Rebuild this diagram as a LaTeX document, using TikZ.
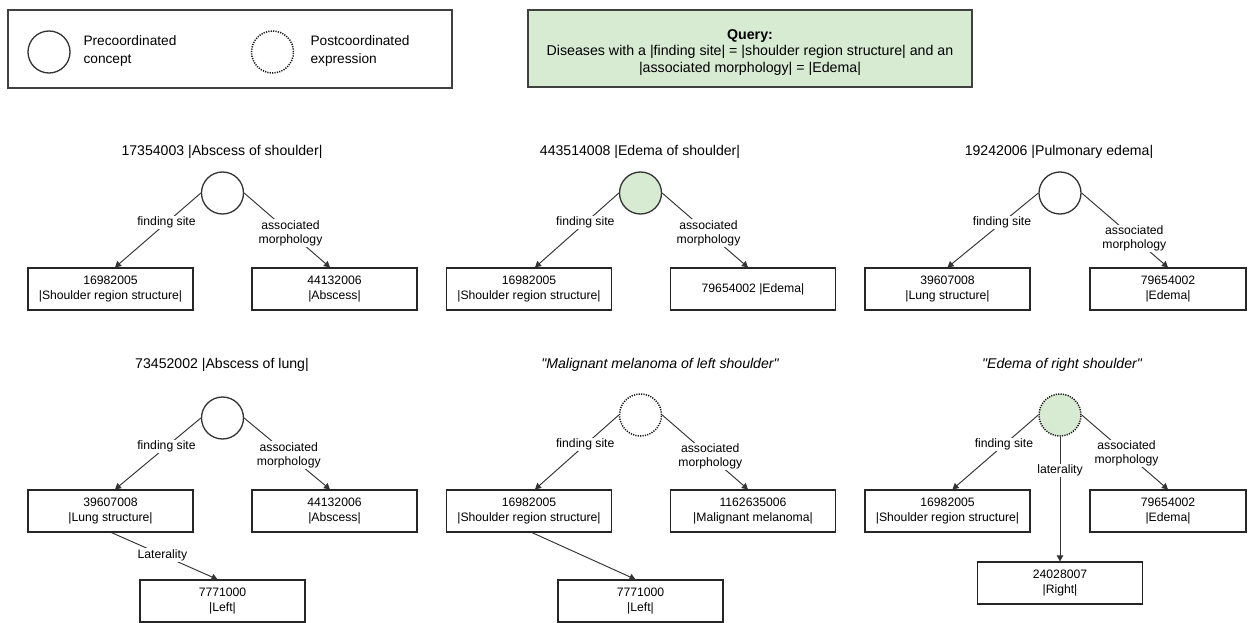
\documentclass[tikz,border=0pt]{standalone}
\usepackage{fontspec}
\setmainfont{Liberation Sans}[Ligatures=TeXOff]
\usetikzlibrary{arrows.meta}
\definecolor{qgreen}{RGB}{215,234,210}
\definecolor{edgec}{RGB}{51,51,51}
\begin{document}
\begin{tikzpicture}[x=1pt,y=-1pt,
 concept/.style={circle,draw=edgec,line width=1.3pt,minimum size=42pt,inner sep=0pt},
 post/.style={concept,draw=black!90,line width=1.5pt,dash pattern=on 1.2pt off 1.2pt},
 box/.style={draw=black!85,line width=1.2pt,minimum height=42pt,minimum width=165pt,align=center,inner sep=1pt,font=\fontsize{12.2}{14.5}\selectfont},
 ttl/.style={font=\fontsize{14.1}{16}\selectfont},
 rel/.style={draw=edgec,line width=0.95pt,-{Triangle[length=6pt,width=6.5pt]}},
 lbl/.style={fill=white,inner sep=1pt,align=center,font=\fontsize{12.2}{14}\selectfont},
]
\useasboundingbox (0,0) rectangle (1248,623);

% legend
\node[draw=black!75,line width=1.3pt,minimum width=444pt,minimum height=78pt,inner sep=0pt] (legend) at (230,49) {};
\node[concept] (lc1) at (49,52) {};
\node[anchor=west,align=left,font=\fontsize{13.7}{18}\selectfont] (lt1) at (80,51) {Precoordinated\\concept};
\node[post] (lc2) at (272.5,52) {};
\node[anchor=west,align=left,font=\fontsize{13.7}{18}\selectfont] (lt2) at (307,51) {Postcoordinated\\expression};

% query
\node[draw=black!75,line width=1.3pt,fill=qgreen,minimum width=444pt,minimum height=77pt,align=center,font=\fontsize{14.2}{16.2}\selectfont] (query) at (750,48.5)
 {\rule{0pt}{18pt}\textbf{Query:}\\Diseases with a |finding site| = |shoulder region structure| and an\\|associated morphology| = |Edema|};

% ---------- row 1 ----------
\node[ttl] (t1) at (222,152) {17354003 |Abscess of shoulder|};
\node[concept] (c1) at (222.5,193) {};
\node[box] (b1a) at (110.5,289) {16982005\\|Shoulder region structure|};
\node[box] (b1b) at (334.5,289) {44132006\\|Abscess|};
\draw[rel] (c1.west) -- node[lbl,pos=0.4]{finding site} ([xshift=4.5pt]b1a.north);
\draw[rel] (c1.east) -- node[lbl,pos=0.54]{associated\\morphology} ([xshift=-4.5pt]b1b.north);

\node[ttl] (t2) at (640,152) {443514008 |Edema of shoulder|};
\node[concept,fill=qgreen] (c2) at (640.5,193) {};
\node[box] (b2a) at (529,289) {16982005\\|Shoulder region structure|};
\node[box] (b2b) at (753,289) {79654002 |Edema|};
\draw[rel] (c2.west) -- node[lbl,pos=0.4]{finding site} ([xshift=6pt]b2a.north);
\draw[rel] (c2.east) -- node[lbl,pos=0.54]{associated\\morphology} ([xshift=-5pt]b2b.north);

\node[ttl] (t3) at (1059,152) {19242006 |Pulmonary edema|};
\node[concept] (c3) at (1060,193) {};
\node[box] (b3a) at (947.5,289) {39607008\\|Lung structure|};
\node[box,minimum width=156pt] (b3b) at (1168,289) {79654002\\|Edema|};
\draw[rel] (c3.west) -- node[lbl,pos=0.4]{finding site} (b3a.north);
\draw[rel] (c3.east) -- node[lbl,pos=0.61]{associated\\morphology} (b3b.north);

% ---------- row 2 ----------
\node[ttl] (t4) at (222,365) {73452002 |Abscess of lung|};
\node[concept] (c4) at (222.5,418) {};
\node[box] (b4a) at (110.5,511) {39607008\\|Lung structure|};
\node[box] (b4b) at (334.5,511) {44132006\\|Abscess|};
\node[box] (b4c) at (222.5,601) {7771000\\|Left|};
\draw[rel] (c4.west) -- node[lbl,pos=0.4]{finding site} ([xshift=4.5pt]b4a.north);
\draw[rel] (c4.east) -- node[lbl,pos=0.52]{associated\\morphology} ([xshift=-4.5pt]b4b.north);
\draw[rel] ([xshift=1pt]b4a.south) -- node[lbl,pos=0.48]{Laterality} ([xshift=-5pt]b4c.north);

\node[ttl,font=\fontsize{14.1}{16}\selectfont\itshape] (t5) at (660,365) {"Malignant melanoma of left shoulder"};
\node[post] (c5) at (640.5,415) {};
\node[box] (b5a) at (529,511) {16982005\\|Shoulder region structure|};
\node[box] (b5b) at (753,511) {1162635006\\|Malignant melanoma|};
\node[box] (b5c) at (640.5,601) {7771000\\|Left|};
\draw[rel] (c5.west) -- node[lbl,pos=0.4]{finding site} ([xshift=6pt]b5a.north);
\draw[rel] (c5.east) -- node[lbl,pos=0.56]{associated\\morphology} ([xshift=-5pt]b5b.north);
\draw[rel] ([xshift=3pt]b5a.south) -- ([xshift=-5pt]b5c.north);

\node[ttl,font=\fontsize{14.1}{16}\selectfont\itshape] (t6) at (1062,365) {"Edema of right shoulder"};
\node[post,fill=qgreen] (c6) at (1060,415) {};
\node[box] (b6a) at (947.5,511) {16982005\\|Shoulder region structure|};
\node[box,minimum width=156pt] (b6b) at (1168,511) {79654002\\|Edema|};
\node[box] (b6c) at (1060,583) {24028007\\|Right|};
\draw[rel] (c6.west) -- node[lbl,pos=0.4]{finding site} ([xshift=5pt]b6a.north);
\draw[rel] (c6.east) -- node[lbl,pos=0.52]{associated\\morphology} (b6b.north);
\draw[rel] (c6.south) -- node[lbl,pos=0.27]{laterality} (b6c.north);
\end{tikzpicture}
\end{document}
